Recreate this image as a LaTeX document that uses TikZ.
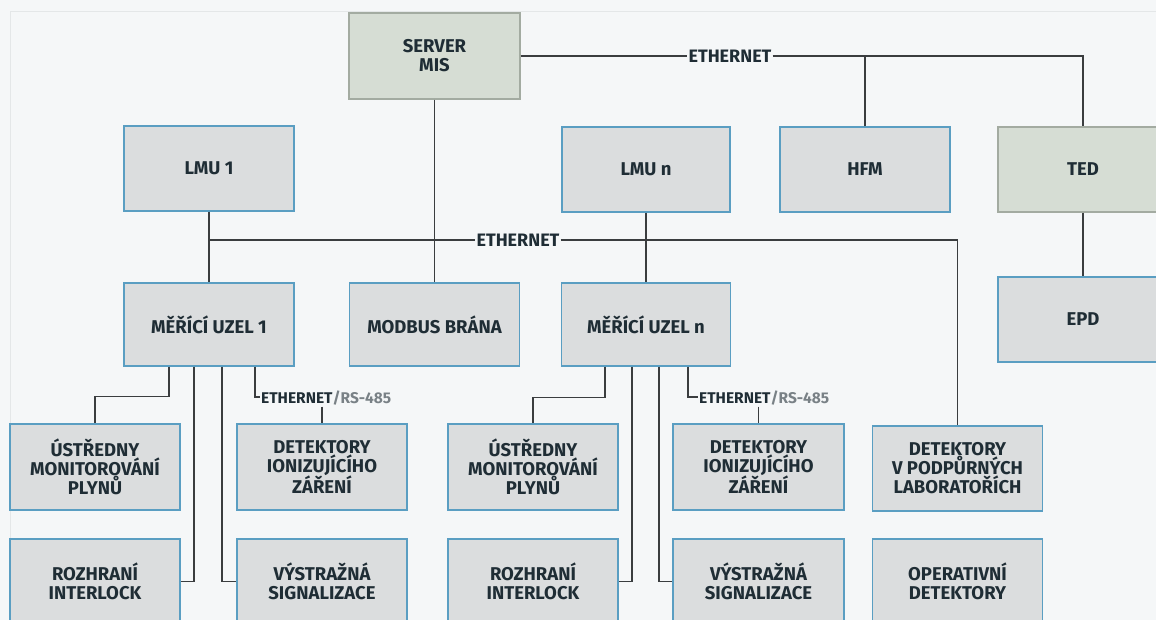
\documentclass[tikz,border=0pt]{standalone}
\usepackage{fontspec}
\setmainfont{Fira Sans}
\definecolor{bgc}{HTML}{F5F7F8}
\definecolor{boxfill}{HTML}{DBDDDE}
\definecolor{boxline}{HTML}{5A9EC2}
\definecolor{grnfill}{HTML}{D6DDD4}
\definecolor{grnline}{HTML}{A3ABA1}
\definecolor{txt}{HTML}{1F2D35}
\definecolor{wire}{HTML}{3A3D3F}
\definecolor{frame}{HTML}{E4E7E8}
\begin{document}
\begin{tikzpicture}[x=1pt,y=-1pt,
  unit/.style={draw=boxline,fill=boxfill,line width=1.1pt,minimum width=170pt,minimum height=85pt,inner sep=0pt,align=center,text=txt,font=\bfseries\fontsize{18.5}{19}\selectfont},
  gunit/.style={unit,draw=grnline,fill=grnfill},
  netlabel/.style={inner sep=1pt,text depth=0pt,text=txt,font=\bfseries\fontsize{18}{20}\selectfont},
  rslabel/.style={netlabel,font=\bfseries\fontsize{15.5}{18}\selectfont},
  wires/.style={draw=wire,line width=1.5pt}]
\useasboundingbox (0,0) rectangle (1156,620);
\clip (0,0) rectangle (1156,620);
\fill[bgc] (0,0) rectangle (1156,620);
\draw[frame,line width=0.8pt] (10,620) -- (10,11) -- (1156,11);
% top row
\node[gunit,minimum width=171pt,minimum height=86pt] (server) at (434.5,56) {SERVER\\MIS};
\node[unit] (lmu1) at (209,168.5) {LMU 1};
\node[unit,minimum width=168pt] (lmun) at (646,169.5) {LMU n};
\node[unit] (hfm) at (865,169.5) {HFM};
\node[gunit] (ted) at (1083,169.5) {TED};
% second row
\node[unit,minimum height=83pt] (mu1) at (209,324.5) {MĚŘÍCÍ UZEL 1};
\node[unit,minimum height=83pt] (modbus) at (434.5,324.5) {MODBUS BRÁNA};
\node[unit,minimum width=169pt,minimum height=83pt] (mun) at (646,324.5) {MĚŘÍCÍ UZEL n};
\node[unit] (epd) at (1083,319.5) {EPD};
% third row
\node[unit,minimum height=86pt] (ust1) at (95,467) {ÚSTŘEDNY\\MONITOROVÁNÍ\\PLYNŮ};
\node[unit,minimum height=86pt] (det1) at (322,467) {DETEKTORY\\IONIZUJÍCÍHO\\ZÁŘENÍ};
\node[unit,minimum height=86pt] (ustn) at (533,467) {ÚSTŘEDNY\\MONITOROVÁNÍ\\PLYNŮ};
\node[unit,minimum height=86pt,minimum width=171pt] (detn) at (758.5,467) {DETEKTORY\\IONIZUJÍCÍHO\\ZÁŘENÍ};
\node[unit] (labdet) at (957.5,468.5) {DETEKTORY\\V PODPŮRNÝCH\\LABORATOŘÍCH};
% bottom row
\node[unit] (roz1) at (95,581.5) {ROZHRANÍ\\INTERLOCK};
\node[unit] (vys1) at (322,581.5) {VÝSTRAŽNÁ\\SIGNALIZACE};
\node[unit] (rozn) at (533,581.5) {ROZHRANÍ\\INTERLOCK};
\node[unit,minimum width=171pt] (vysn) at (758.5,581.5) {VÝSTRAŽNÁ\\SIGNALIZACE};
\node[unit] (oper) at (957.5,581.5) {OPERATIVNÍ\\DETEKTORY};
% labels
\node[netlabel] (ethtop) at (730,56) {ETHERNET};
\node[netlabel] (ethmid) at (518,240) {ETHERNET};
\node[rslabel,anchor=west] (eth1) at (260,397) {ETHERNET\textcolor{txt!60}{/RS-485}};
\node[rslabel,anchor=west] (ethn) at (698,397) {ETHERNET\textcolor{txt!60}{/RS-485}};
% top ethernet
\draw[wires] (server.east) -- (ethtop.west);
\draw[wires] (ethtop.east) -| (ted.north);
\draw[wires] (hfm.north) -- (hfm.north |- server.east);
\draw[wires] (server.south) -- (modbus.north);
\draw[wires] (ted.south) -- (epd.north);
% mid ethernet
\draw[wires] (lmu1.south) -- (mu1.north);
\draw[wires] (lmun.south) -- (mun.north);
\draw[wires] (lmu1.south |- ethmid.west) -- (ethmid.west);
\draw[wires] (ethmid.east) -| (labdet.north);
% measuring node 1
\draw[wires] ([xshift=-40pt]mu1.south) -- ++(0,30) -| (ust1.north);
\draw[wires] ([xshift=-15pt]mu1.south) |- (roz1.east);
\draw[wires] ([xshift=13pt]mu1.south) |- (vys1.west);
\draw[wires] ([xshift=46pt]mu1.south) |- (eth1.west);
\draw[wires] ([yshift=-2pt]eth1.south -| det1.north) -- (det1.north);
% measuring node n
\draw[wires] ([xshift=-41pt]mun.south) -- ++(0,31) -| (ustn.north);
\draw[wires] ([xshift=-14pt]mun.south) |- (rozn.east);
\draw[wires] ([xshift=13pt]mun.south) |- (vysn.west);
\draw[wires] ([xshift=42pt]mun.south) |- (ethn.west);
\draw[wires] ([yshift=-2pt]ethn.south -| detn.north) -- (detn.north);
\end{tikzpicture}
\end{document}
